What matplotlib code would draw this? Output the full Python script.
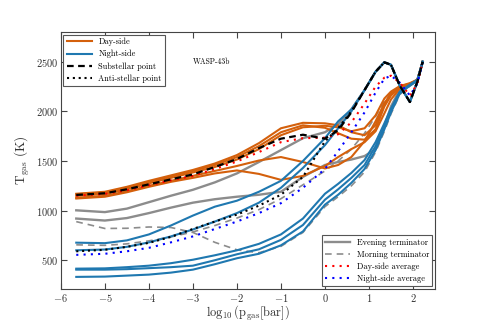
import matplotlib
matplotlib.use("Agg")
import matplotlib.pyplot as plt
from matplotlib.lines import Line2D

plt.rcParams["font.family"] = "serif"
plt.rcParams["font.serif"] = ["cmr10", "DejaVu Serif"]
plt.rcParams["mathtext.fontset"] = "cm"
plt.rcParams["axes.formatter.use_mathtext"] = True

# pressure grid, log10(p/bar)
logp = [-5.65, -5.0, -4.5, -4.0, -3.5, -3.0, -2.5, -2.0, -1.5, -1.0, -0.5,
        0.0, 0.3, 0.6, 0.9, 1.15, 1.35, 1.5, 1.7, 1.93, 2.1, 2.22]

# day-side profiles
day1 = [1170, 1190, 1240, 1300, 1355, 1410, 1475, 1560, 1680, 1830, 1885,
        1880, 1860, 1790, 1760, 1860, 2080, 2180, 2250, 2280, 2320, 2500]
day2 = [1165, 1182, 1230, 1290, 1345, 1400, 1460, 1540, 1650, 1790, 1860,
        1835, 1780, 1725, 1715, 1820, 2050, 2160, 2240, 2275, 2315, 2500]
day3 = [1150, 1168, 1215, 1275, 1330, 1385, 1440, 1515, 1620, 1760, 1840,
        1855, 1840, 1800, 1830, 1960, 2130, 2200, 2255, 2285, 2320, 2500]
day4 = [1130, 1148, 1195, 1250, 1300, 1350, 1400, 1450, 1505, 1540, 1490,
        1425, 1460, 1540, 1700, 1900, 2080, 2170, 2240, 2275, 2315, 2500]
day5 = [1122, 1140, 1185, 1240, 1290, 1330, 1375, 1405, 1370, 1310, 1350,
        1450, 1540, 1620, 1690, 1800, 1980, 2120, 2230, 2270, 2310, 2500]

# night-side profiles
night1 = [677, 672, 700, 760, 850, 950, 1040, 1100, 1190, 1300, 1500,
          1730, 1900, 2020, 2215, 2400, 2495, 2470, 2260, 2095, 2300, 2500]
night2 = [600, 608, 635, 680, 740, 810, 890, 975, 1080, 1230, 1430,
          1660, 1830, 2000, 2215, 2400, 2495, 2470, 2260, 2095, 2300, 2500]
night3 = [415, 418, 430, 445, 470, 505, 550, 600, 665, 760, 920,
          1170, 1270, 1380, 1510, 1690, 1880, 2030, 2200, 2270, 2320, 2500]
night4 = [405, 405, 410, 420, 430, 445, 500, 560, 610, 705, 855,
          1110, 1215, 1330, 1460, 1650, 1850, 2010, 2190, 2265, 2315, 2500]
night5 = [332, 335, 345, 355, 375, 405, 460, 520, 565, 650, 790,
          1060, 1160, 1280, 1420, 1610, 1820, 1990, 2180, 2260, 2310, 2500]

# terminators
evening1 = [1003, 985, 1020, 1085, 1150, 1210, 1285, 1375, 1490, 1610, 1730,
            1790, 1870, 2020, 2215, 2400, 2495, 2470, 2260, 2095, 2300, 2500]
evening2 = [920, 900, 925, 975, 1030, 1080, 1115, 1140, 1160, 1190, 1340,
            1460, 1490, 1515, 1550, 1620, 1850, 2050, 2220, 2270, 2315, 2500]
morning1 = [889, 820, 822, 835, 830, 780, 680, 605, 575, 640, 780,
            1040, 1140, 1250, 1390, 1590, 1800, 1975, 2170, 2255, 2310, 2500]
morning2 = [655, 650, 665, 695, 735, 785, 850, 925, 1010, 1120, 1260,
            1400, 1500, 1620, 1780, 1950, 2100, 2180, 2240, 2270, 2315, 2500]

substellar = [1158, 1175, 1215, 1265, 1315, 1365, 1440, 1520, 1630, 1725, 1765,
              1725, 1810, 1990, 2215, 2400, 2495, 2470, 2260, 2095, 2300, 2500]
antistellar = [590, 605, 635, 675, 735, 815, 890, 960, 1050, 1160, 1340,
               1700, 1830, 2000, 2215, 2400, 2495, 2470, 2260, 2095, 2300, 2500]
day_avg = [1150, 1168, 1205, 1255, 1305, 1350, 1420, 1495, 1590, 1690, 1730,
           1735, 1770, 1890, 2080, 2250, 2340, 2360, 2290, 2160, 2280, 2500]
night_avg = [554, 565, 590, 625, 680, 740, 815, 890, 975, 1075, 1230,
             1420, 1600, 1790, 1990, 2190, 2330, 2360, 2290, 2160, 2280, 2500]

c_day = "#d4600c"
c_night = "#1f78b0"
c_term = "#8c8c8c"

fig = plt.figure(figsize=(4.83, 3.22), dpi=100)
ax = fig.add_axes([0.126, 0.1025, 0.7746, 0.798])

for T in [evening1, evening2]:
    ax.plot(logp, T, color=c_term, lw=1.7)
for T in [morning1, morning2]:
    ax.plot(logp, T, color=c_term, lw=1.2, ls=(0, (4, 3)))
for T in [day1, day2, day3, day4, day5]:
    ax.plot(logp, T, color=c_day, lw=1.5)
for T in [night1, night2, night3, night4, night5]:
    ax.plot(logp, T, color=c_night, lw=1.5)
ax.plot(logp, day_avg, color="red", lw=1.5, ls=(0, (1, 2.5)))
ax.plot(logp, night_avg, color="blue", lw=1.5, ls=(0, (1, 2.5)))
ax.plot(logp, substellar, color="black", lw=1.6, ls=(0, (3, 2)))
ax.plot(logp, antistellar, color="black", lw=1.5, ls=(0, (1, 1.8)))

ax.text(-3.0, 2500, "WASP-43b", fontsize=5.5, va="center", ha="left")

ax.set_xlim(-6, 2.5)
ax.set_ylim(210, 2800)
ax.set_xticks([-6, -5, -4, -3, -2, -1, 0, 1, 2])
ax.set_yticks([500, 1000, 1500, 2000, 2500])
ax.tick_params(direction="in", top=True, right=True, length=4, pad=2,
               labelsize=7.5, color="#444444", labelcolor="#333333")
for s in ax.spines.values():
    s.set_color("#444444")
ax.set_xlabel(r"$\log_{10}(\mathrm{p_{gas}[bar]})$", fontsize=9,
              color="#333333", labelpad=0)
ax.set_ylabel(r"$\mathrm{T_{gas}}$ (K)", fontsize=9.5, color="#333333",
              labelpad=3)

h1 = [Line2D([], [], color=c_day, lw=1.5),
      Line2D([], [], color=c_night, lw=1.5),
      Line2D([], [], color="black", lw=1.6, ls=(0, (3, 2))),
      Line2D([], [], color="black", lw=1.5, ls=(0, (1, 1.8)))]
leg1 = ax.legend(h1, ["Day-side", "Night-side", "Substellar point", "Anti-stellar point"],
                 loc="upper left", fontsize=6, fancybox=False, edgecolor="#555555",
                 framealpha=1, borderaxespad=0.3, handlelength=3, labelspacing=0.45)
leg1.get_frame().set_linewidth(0.8)
ax.add_artist(leg1)

h2 = [Line2D([], [], color=c_term, lw=1.7),
      Line2D([], [], color=c_term, lw=1.2, ls=(0, (4, 3))),
      Line2D([], [], color="red", lw=1.5, ls=(0, (1, 2.5))),
      Line2D([], [], color="blue", lw=1.5, ls=(0, (1, 2.5)))]
leg2 = ax.legend(h2, ["Evening terminator", "Morning terminator",
                      "Day-side average", "Night-side average"],
                 loc="lower right", fontsize=6, fancybox=False, edgecolor="#555555",
                 framealpha=1, borderaxespad=0.3, handlelength=3, labelspacing=0.45)
leg2.get_frame().set_linewidth(0.8)

fig.savefig("out.png", dpi=100)
